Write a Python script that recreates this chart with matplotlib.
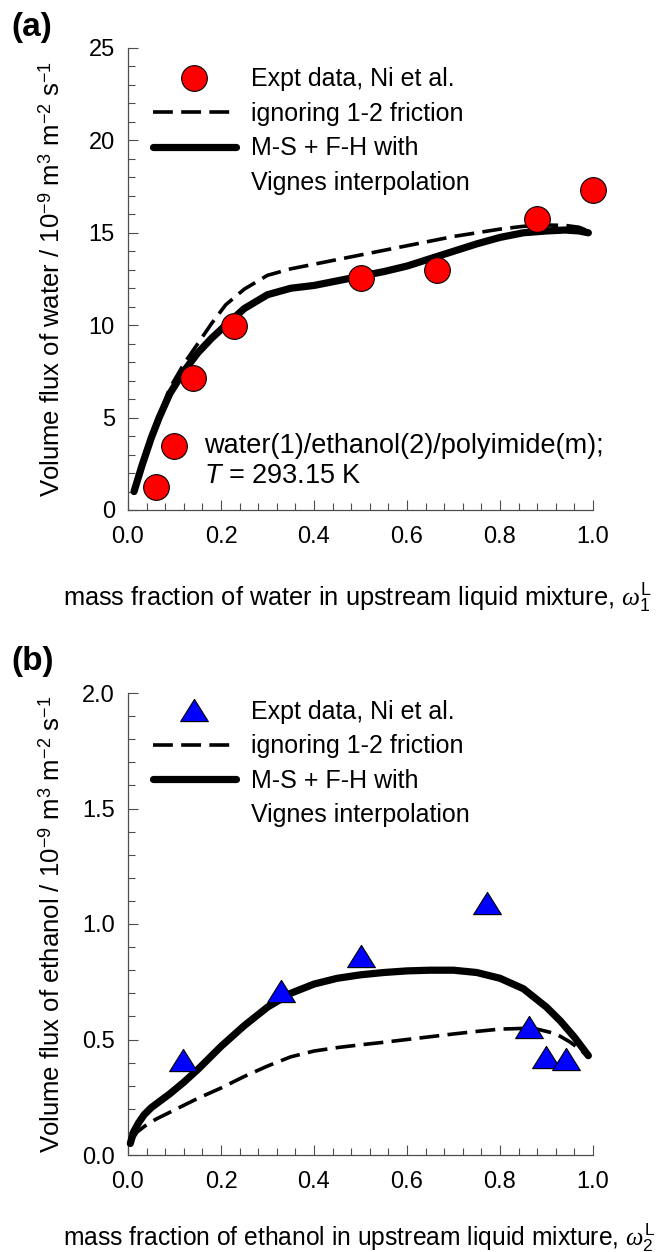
import matplotlib
matplotlib.use("Agg")
import matplotlib.pyplot as plt
from matplotlib.ticker import MultipleLocator, AutoMinorLocator, FormatStrFormatter
from matplotlib.lines import Line2D
from matplotlib.path import Path

plt.rcParams['font.family'] = ['Liberation Sans', 'DejaVu Sans']
plt.rcParams['mathtext.fontset'] = 'custom'
plt.rcParams['mathtext.rm'] = 'Liberation Sans'
plt.rcParams['mathtext.it'] = 'Liberation Serif:italic'
plt.rcParams['mathtext.sf'] = 'Liberation Sans:italic'
plt.rcParams['mathtext.bf'] = 'Liberation Sans:bold'

# ---------------- data: panel (a) water flux ----------------
water_expt_x = [0.061, 0.098, 0.140, 0.227, 0.501, 0.664, 0.879, 0.999]
water_expt_y = [1.26, 3.48, 7.12, 9.96, 12.53, 13.01, 15.72, 17.32]

water_ms_x = [0.013, 0.03, 0.05, 0.067, 0.09, 0.12, 0.15, 0.18, 0.21, 0.25, 0.30, 0.35,
              0.40, 0.45, 0.50, 0.55, 0.60, 0.65, 0.70, 0.75, 0.80, 0.85, 0.90, 0.94, 0.97, 0.99]
water_ms_y = [1.0, 2.4, 3.9, 5.0, 6.3, 7.5, 8.5, 9.3, 10.0, 10.9, 11.65, 12.0,
              12.15, 12.4, 12.65, 12.9, 13.2, 13.6, 14.0, 14.4, 14.75, 15.0, 15.1, 15.15, 15.1, 15.0]

water_no12_x = [0.013, 0.03, 0.05, 0.07, 0.09, 0.12, 0.15, 0.18, 0.21, 0.25, 0.30, 0.35,
                0.40, 0.45, 0.50, 0.55, 0.60, 0.65, 0.70, 0.75, 0.80, 0.85, 0.90, 0.94, 0.97, 0.99]
water_no12_y = [1.1, 2.6, 4.1, 5.3, 6.6, 7.9, 9.0, 10.1, 11.1, 11.95, 12.7, 13.05,
                13.3, 13.55, 13.8, 14.05, 14.3, 14.55, 14.8, 15.0, 15.2, 15.35, 15.42, 15.4, 15.3, 15.1]

# ---------------- data: panel (b) ethanol flux ----------------
eth_expt_x = [0.119, 0.328, 0.501, 0.771, 0.863, 0.899, 0.942]
eth_expt_y = [0.413, 0.712, 0.862, 1.093, 0.553, 0.425, 0.415]

eth_ms_x = [0.005, 0.012, 0.023, 0.035, 0.05, 0.07, 0.09, 0.12, 0.15, 0.20, 0.25, 0.30, 0.35,
            0.40, 0.45, 0.50, 0.55, 0.60, 0.65, 0.70, 0.75, 0.80, 0.85, 0.90, 0.93, 0.96, 0.99]
eth_ms_y = [0.05, 0.10, 0.14, 0.175, 0.205, 0.235, 0.265, 0.315, 0.37, 0.47, 0.56, 0.64, 0.70,
            0.74, 0.765, 0.78, 0.79, 0.797, 0.80, 0.80, 0.79, 0.765, 0.72, 0.64, 0.58, 0.51, 0.43]

eth_no12_x = [0.01, 0.02, 0.036, 0.06, 0.09, 0.12, 0.15, 0.20, 0.25, 0.30, 0.35, 0.40, 0.45,
              0.50, 0.55, 0.60, 0.65, 0.70, 0.75, 0.80, 0.85, 0.88, 0.92, 0.95, 0.97, 0.99]
eth_no12_y = [0.07, 0.10, 0.125, 0.155, 0.185, 0.215, 0.245, 0.29, 0.34, 0.385, 0.425, 0.45, 0.465,
              0.477, 0.488, 0.50, 0.512, 0.524, 0.535, 0.545, 0.548, 0.545, 0.525, 0.49, 0.46, 0.425]

legend_labels = ["Expt data, Ni et al.", "ignoring 1-2 friction", "M-S + F-H with", "Vignes interpolation"]

# ---------------- figure ----------------
W, H = 657, 1252
fig = plt.figure(figsize=(W / 100, H / 100), dpi=100)

def frac_axes(left, top, right, bottom):
    return fig.add_axes([left / W, 1 - bottom / H, (right - left) / W, (bottom - top) / H])

axA = frac_axes(128, 48, 593, 510)
axB = frac_axes(128, 693, 593, 1155)

spine_col = '#4d4d4d'
tri = Path([(-1, -0.8), (1, -0.8), (0, 0.8), (-1, -0.8)],
           [Path.MOVETO, Path.LINETO, Path.LINETO, Path.CLOSEPOLY])

def style_axes(ax, ymax, ymajor):
    ax.set_xlim(0, 1.0)
    ax.set_ylim(0, ymax)
    for s in ('top', 'right'):
        ax.spines[s].set_visible(False)
    for s in ('left', 'bottom'):
        ax.spines[s].set_color(spine_col)
        ax.spines[s].set_linewidth(0.9)
    ax.xaxis.set_major_locator(MultipleLocator(0.2))
    ax.xaxis.set_minor_locator(AutoMinorLocator(5))
    ax.yaxis.set_major_locator(MultipleLocator(ymajor))
    ax.yaxis.set_minor_locator(AutoMinorLocator(5))
    ax.tick_params(which='both', direction='in', color=spine_col, width=0.8,
                   top=False, right=False, labelsize=17)
    ax.tick_params(which='major', length=7)
    ax.tick_params(which='minor', length=5)
    ax.tick_params(axis='x', which='major', pad=11.5)
    ax.tick_params(axis='y', which='major', pad=9.4)
    ax.xaxis.set_major_formatter(FormatStrFormatter('%.1f'))

dash = (5.5, 2.3)
LEG_FS = 18

# ---- panel (a)
style_axes(axA, 25, 5)
axA.yaxis.set_major_formatter(FormatStrFormatter('%d'))
axA.plot(water_no12_x, water_no12_y, color='black', lw=2.6, dashes=dash, clip_on=False, zorder=3)
axA.plot(water_ms_x, water_ms_y, color='black', lw=5.2, solid_capstyle='round',
         solid_joinstyle='round', clip_on=False, zorder=3)
axA.plot(water_expt_x, water_expt_y, ls='none', marker='o', ms=18.5, mfc='#ff0000',
         mec='black', mew=0.8, clip_on=False, zorder=4)

handlesA = [Line2D([], [], ls='none', marker='o', ms=18.5, mfc='#ff0000', mec='black', mew=0.8),
            Line2D([], [], color='black', lw=2.6, dashes=dash),
            Line2D([], [], color='black', lw=5.2, solid_capstyle='round'),
            Line2D([], [], color='none')]
axA.legend(handlesA, legend_labels, loc='upper left', bbox_to_anchor=(0.054, 0.958),
           frameon=False, fontsize=LEG_FS, borderpad=0, borderaxespad=0,
           handlelength=3.3, handletextpad=0.6, labelspacing=0.42)

axA.set_xlabel(r"mass fraction of water in upstream liquid mixture, $\omega_1^{\mathrm{L}}$", fontsize=18.3)
axA.xaxis.set_label_coords((63 - 128) / 465, (510 - 607) / 462)
axA.xaxis.label.set_va('baseline')
axA.xaxis.label.set_ha('left')
axA.set_ylabel(r"Volume flux of water / 10$^{-9}$ m$^{3}$ m$^{-2}$ s$^{-1}$", fontsize=18.5)
axA.yaxis.set_label_coords((52 - 128) / 465, 0.5)
axA.yaxis.label.set_va('center')

axA.text(0.163, (510 - 452.7) / 462, "water(1)/ethanol(2)/polyimide(m);", transform=axA.transAxes,
         fontsize=19.5, ha='left', va='baseline', clip_on=False)
axA.text(0.163, (510 - 482.7) / 462, r"$\mathsf{T}$ = 293.15 K", transform=axA.transAxes,
         fontsize=19.5, ha='left', va='baseline', clip_on=False)

# ---- panel (b)
style_axes(axB, 2.0, 0.5)
axB.yaxis.set_major_formatter(FormatStrFormatter('%.1f'))
axB.plot(eth_no12_x, eth_no12_y, color='black', lw=2.6, dashes=dash, clip_on=False, zorder=3)
axB.plot(eth_ms_x, eth_ms_y, color='black', lw=5.2, solid_capstyle='round',
         solid_joinstyle='round', clip_on=False, zorder=3)
axB.plot(eth_expt_x, eth_expt_y, ls='none', marker=tri, ms=20, mfc='#0000ff',
         mec='black', mew=0.8, clip_on=False, zorder=4)

handlesB = [Line2D([], [], ls='none', marker=tri, ms=20, mfc='#0000ff', mec='black', mew=0.8),
            Line2D([], [], color='black', lw=2.6, dashes=dash),
            Line2D([], [], color='black', lw=5.2, solid_capstyle='round'),
            Line2D([], [], color='none')]
axB.legend(handlesB, legend_labels, loc='upper left', bbox_to_anchor=(0.054, 0.985),
           frameon=False, fontsize=LEG_FS, borderpad=0, borderaxespad=0,
           handlelength=3.3, handletextpad=0.6, labelspacing=0.42)

axB.set_xlabel(r"mass fraction of ethanol in upstream liquid mixture, $\omega_2^{\mathrm{L}}$", fontsize=17.7)
axB.xaxis.set_label_coords((63 - 128) / 465, (1155 - 1246) / 462)
axB.xaxis.label.set_va('baseline')
axB.xaxis.label.set_ha('left')
axB.set_ylabel(r"Volume flux of ethanol / 10$^{-9}$ m$^{3}$ m$^{-2}$ s$^{-1}$", fontsize=18.5)
axB.yaxis.set_label_coords((52 - 128) / 465, 0.5)
axB.yaxis.label.set_va('center')

fig.text(11 / W, 1 - 12 / H, "(a)", fontsize=24, fontweight='bold', ha='left', va='top')
fig.text(11 / W, 1 - 646 / H, "(b)", fontsize=24, fontweight='bold', ha='left', va='top')

fig.savefig("out.png", dpi=100)
